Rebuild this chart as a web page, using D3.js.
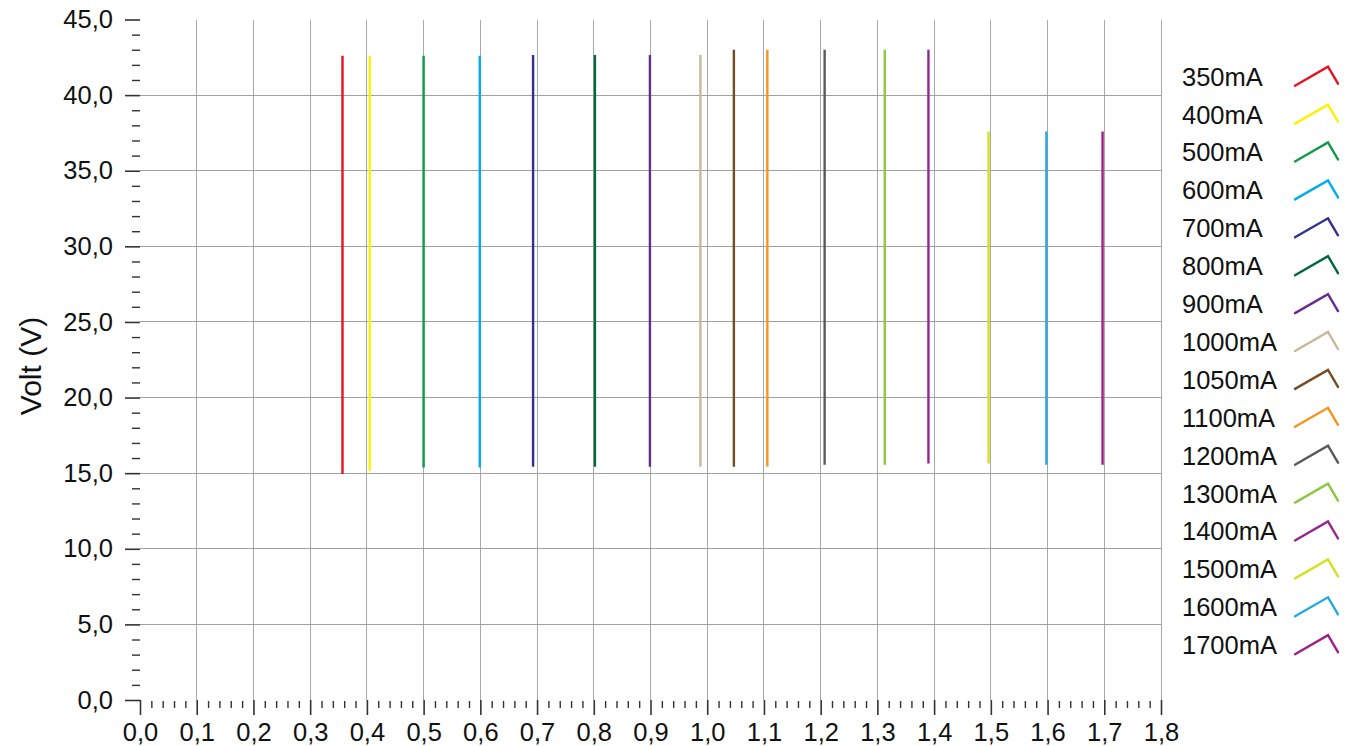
<!DOCTYPE html>
<html>
<head>
<meta charset="utf-8">
<script src="https://cdn.jsdelivr.net/npm/d3@7"></script>
<style>
  html, body { margin: 0; padding: 0; background: #fff; }
  svg { display: block; }
  text { font-family: "Liberation Sans", Arial, sans-serif; fill: #111; }
</style>
</head>
<body>
<svg id="chart" width="1348" height="746"></svg>
<script>
// ---- data ----
const seriesNames = ["350mA","400mA","500mA","600mA","700mA","800mA","900mA","1000mA",
  "1050mA","1100mA","1200mA","1300mA","1400mA","1500mA","1600mA","1700mA"];
const xValues = [0.357, 0.405, 0.500, 0.599, 0.693, 0.802, 0.899, 0.988,
  1.047, 1.106, 1.207, 1.313, 1.390, 1.496, 1.598, 1.697];
const voltLow = [14.95, 15.15, 15.37, 15.37, 15.42, 15.42, 15.42, 15.42,
  15.42, 15.44, 15.55, 15.55, 15.64, 15.64, 15.55, 15.55];
const voltHigh = [42.6, 42.6, 42.6, 42.6, 42.66, 42.66, 42.66, 42.66,
  43.0, 43.0, 43.0, 43.0, 43.0, 37.6, 37.6, 37.6];
const seriesColors = ["#e3141f","#fff200","#0e9b47","#00aeef","#2e3192","#006837","#662d91","#c8b99b",
  "#754c24","#f7941d","#58595b","#8dc63f","#92278f","#d7df23","#27aae1","#9e1f83"];
const xTickValues = d3.range(0, 19).map(i => i / 10);
const yTickValues = d3.range(0, 10).map(i => i * 5);
const yLabel = "Volt (V)";

// ---- layout ----
const svg = d3.select("#chart");
const mLeft = 140, mRight = 1161, mTop = 19.5, mBottom = 700;
const x = d3.scaleLinear().domain([0, 1.8]).range([mLeft, mRight]);
const y = d3.scaleLinear().domain([0, 45]).range([mBottom, mTop]);
const fmt = v => d3.format(".1f")(v).replace(".", ",");

// gridlines
const grid = svg.append("g");
grid.selectAll("line.v").data(xTickValues.filter(v => v > 0)).enter().append("line")
  .attr("x1", d => x(d)).attr("x2", d => x(d))
  .attr("y1", y(45)).attr("y2", y(0))
  .attr("stroke", "#a8a8a8").attr("stroke-width", 1).attr("shape-rendering", "crispEdges");
grid.selectAll("line.h").data(yTickValues.filter(v => v > 0 && v < 45)).enter().append("line")
  .attr("x1", mLeft).attr("x2", mRight)
  .attr("y1", d => y(d)).attr("y2", d => y(d))
  .attr("stroke", "#a0a0a0").attr("stroke-width", 1).attr("shape-rendering", "crispEdges");

// y axis
const yMinor = d3.range(0, 46).filter(v => v % 5 !== 0);
const yAxisMajor = d3.axisLeft(y).tickValues(yTickValues).tickSize(15).tickPadding(12).tickFormat(fmt);
const gy = svg.append("g").attr("transform", `translate(${mLeft},0)`).call(yAxisMajor);
gy.select(".domain").remove();
gy.selectAll(".tick line").attr("stroke", "#333").attr("stroke-width", 1.6);
gy.selectAll(".tick text").style("font-size", "25.5px").style("font-family", "Liberation Sans, Arial, sans-serif").attr("fill", "#111");
const gyMinor = svg.append("g").attr("transform", `translate(${mLeft},0)`)
  .call(d3.axisLeft(y).tickValues(yMinor).tickSize(8).tickFormat(""));
gyMinor.select(".domain").remove();
gyMinor.selectAll(".tick line").attr("stroke", "#333").attr("stroke-width", 1.4);

// x axis
const xMinor = d3.range(0, 91).filter(i => i % 5 !== 0).map(i => i / 50);
const gx = svg.append("g").attr("transform", `translate(0,${mBottom})`)
  .call(d3.axisBottom(x).tickValues(xTickValues).tickSize(15).tickPadding(8).tickFormat(fmt));
gx.select(".domain").remove();
gx.selectAll(".tick line").attr("stroke", "#333").attr("stroke-width", 1.6);
gx.selectAll(".tick text").style("font-size", "25.5px").style("font-family", "Liberation Sans, Arial, sans-serif").attr("fill", "#111");
const gxMinor = svg.append("g").attr("transform", `translate(0,${mBottom + 1})`)
  .call(d3.axisBottom(x).tickValues(xMinor).tickSize(7).tickFormat(""));
gxMinor.select(".domain").remove();
gxMinor.selectAll(".tick line").attr("stroke", "#333").attr("stroke-width", 1.4);

// y label
svg.append("text")
  .attr("transform", `translate(41,366) rotate(-90)`)
  .attr("text-anchor", "middle")
  .style("font-size", "30px")
  .text(yLabel);

// series
const line = d3.line().x(d => x(d[0])).y(d => y(d[1]));
const series = seriesNames.map((name, i) => ({
  name, color: seriesColors[i],
  points: [[xValues[i], voltLow[i]], [xValues[i], voltHigh[i]]]
}));
svg.append("g").selectAll("path").data(series).enter().append("path")
  .attr("d", d => line(d.points))
  .attr("fill", "none").attr("stroke", d => d.color).attr("stroke-width", 2.4);

// legend
const leg = svg.append("g");
const rowY = i => 76.7 + i * 37.9;
const items = leg.selectAll("g").data(series).enter().append("g")
  .attr("transform", (d, i) => `translate(0,${rowY(i)})`);
items.append("text").attr("x", 1182).attr("y", 0).attr("dy", "0.35em")
  .style("font-size", "25.5px").text(d => d.name);
items.append("path")
  .attr("d", "M1295,9 L1328,-10 L1338,7")
  .attr("fill", "none").attr("stroke", d => d.color).attr("stroke-width", 2.4)
  .attr("stroke-linecap", "round").attr("stroke-linejoin", "miter");
</script>
</body>
</html>
